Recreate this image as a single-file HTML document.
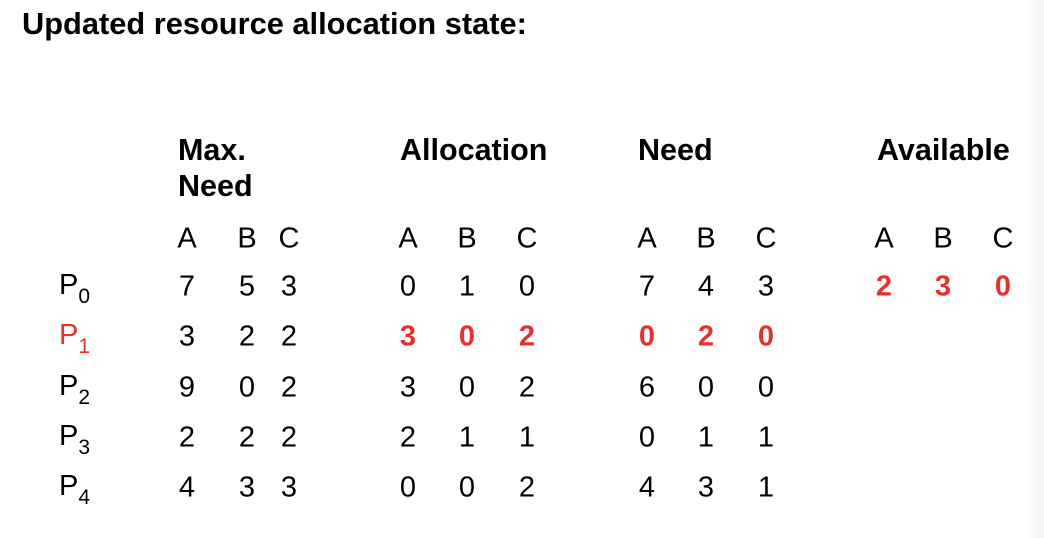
<!DOCTYPE html>
<html><head><meta charset="utf-8"><style>
body{margin:0;width:1044px;height:538px;background:#fff;position:relative;overflow:hidden;font-family:"Liberation Sans",Arial,sans-serif;color:#000}
.t{position:absolute;transform:translate(-50%,-50%);font-size:29px;line-height:1;white-space:nowrap}
.h{position:absolute;font-weight:bold;font-size:30.5px;line-height:36px;white-space:nowrap}
.r{color:#e8302a}.b{font-weight:bold}
.p{position:absolute;font-size:29px;line-height:1;transform:translateY(-50%)}
.p sub{font-size:21px;vertical-align:-9px}
#shade{position:absolute;right:0;top:0;width:16px;height:538px;background:linear-gradient(to right,#fff,#f3f3f3)}
</style></head><body>
<div id="shade"></div>
<div class="h" style="left:22px;top:6px;font-size:30.8px">Updated resource allocation state:</div>
<div class="h" style="left:178px;top:132px">Max.<br>Need</div>
<div class="h" style="left:400px;top:132px">Allocation</div>
<div class="h" style="left:638px;top:132px">Need</div>
<div class="h" style="left:877px;top:132px">Available</div>
<div id="grid"></div>
<script>
const procs=["0","1","2","3","4"];
const maxNeed=[[7,5,3],[3,2,2],[9,0,2],[2,2,2],[4,3,3]];
const allocation=[[0,1,0],[3,0,2],[3,0,2],[2,1,1],[0,0,2]];
const need=[[7,4,3],[0,2,0],[6,0,0],[0,1,1],[4,3,1]];
const available=[2,3,0];
const groupX=[[187,247,289],[408,467,527],[647,706,766],[884,943,1003]];
const rowY=[287,337,388,438,488];
const g=document.getElementById('grid');
function add(txt,x,y,cls,name){
 const d=document.createElement('div');d.className='t '+(cls||'');
 d.style.left=x+'px';d.style.top=y+'px';d.textContent=txt;
 
 
 g.appendChild(d);}
const letters=["A","B","C"];
groupX.forEach((xs,gi)=>xs.forEach((x,ci)=>add(letters[ci],x,239,'','column-label-'+letters[ci].toLowerCase())));
procs.forEach((p,i)=>{
 const d=document.createElement('div');d.className='p'+(i==1?' r':'');
 d.style.left='59px';d.style.top=(rowY[i]+2)+'px';d.innerHTML='P<sub>'+p+'</sub>';
 
 
 g.appendChild(d);
 [maxNeed,allocation,need].forEach((m,gi)=>m[i].forEach((v,ci)=>{
  const red=(i==1&&gi>0);
  add(String(v),groupX[gi][ci],rowY[i],red?'r b':'','cell-value');
 }));
});
available.forEach((v,ci)=>add(String(v),groupX[3][ci],rowY[0],'r b','available-value'));
</script>
</body></html>
